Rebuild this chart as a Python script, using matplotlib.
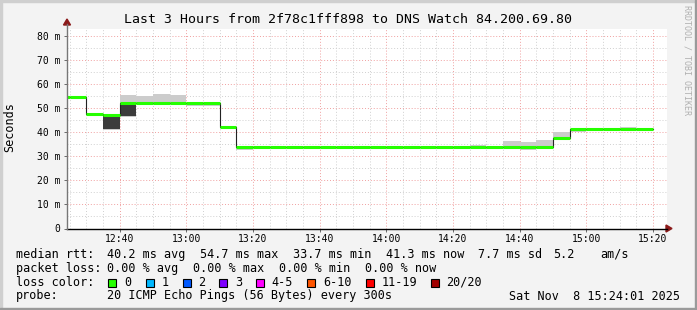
import numpy as np
import matplotlib
matplotlib.use("Agg")
from matplotlib import pyplot as plt
from matplotlib.patches import Rectangle, Polygon

plt.rcParams['font.family'] = ['DejaVu Sans Mono']

W, H = 697, 310

# 5 minute intervals, start times
interval_start = ["12:20", "12:25", "12:30", "12:35", "12:40", "12:45", "12:50", "12:55",
                  "13:00", "13:05", "13:10", "13:15", "13:20", "13:25", "13:30", "13:35",
                  "13:40", "13:45", "13:50", "13:55", "14:00", "14:05", "14:10", "14:15",
                  "14:20", "14:25", "14:30", "14:35", "14:40", "14:45", "14:50", "14:55",
                  "15:00", "15:05", "15:10", "15:15"]
median_ms = [54.7, 54.7, 47.5, 47.1, 52.2, 52.2, 52.2, 52.2,
             52.0, 52.0, 42.1, 33.8, 33.8, 33.8, 33.8, 33.8,
             33.8, 33.8, 33.8, 33.8, 33.8, 33.8, 33.8, 33.8,
             33.8, 33.8, 33.9, 33.9, 33.9, 33.9, 37.7, 41.3,
             41.3, 41.3, 41.3, 41.3]
# light smoke band (lo, hi), nan = none
smoke_lo = [np.nan, np.nan, np.nan, 40.9, 46.4, 51.5, 52.2, 52.2,
            51.0, 51.0, np.nan, 32.6, np.nan, np.nan, np.nan, np.nan,
            np.nan, np.nan, np.nan, np.nan, np.nan, np.nan, np.nan, np.nan,
            np.nan, 33.8, 32.8, 33.9, 32.5, 33.9, 37.7, 40.1,
            40.5, np.nan, 41.3, np.nan]
smoke_hi = [np.nan, np.nan, np.nan, 47.1, 55.4, 55.0, 55.8, 55.4,
            52.0, 52.0, np.nan, 33.8, np.nan, np.nan, np.nan, np.nan,
            np.nan, np.nan, np.nan, np.nan, np.nan, np.nan, np.nan, np.nan,
            np.nan, 34.6, 33.9, 36.3, 35.8, 36.6, 40.2, 41.3,
            41.3, np.nan, 42.1, np.nan]
# dense (dark) smoke band
dark_lo = [np.nan, np.nan, np.nan, 41.3, 46.8, np.nan]
dark_hi = [np.nan, np.nan, np.nan, 47.1, 52.0, np.nan]

x_ticks = ["12:40", "13:00", "13:20", "13:40", "14:00", "14:20", "14:40", "15:00", "15:20"]
y_ticks = [0, 10, 20, 30, 40, 50, 60, 70, 80]

loss_labels = ["0", "1", "2", "3", "4-5", "6-10", "11-19", "20/20"]
loss_colors = ["#26ff00", "#00b8ff", "#0059ff", "#7e00ff", "#ff00ff", "#ff5500", "#ff0000", "#a10000"]


def tmin(s):
    h, m = s.split(":")
    return (int(h) - 12) * 60 + int(m)


def fx(x):
    return x / W


def fy(y):
    return 1 - y / H


t_start = 24.2
t_end = t_start + 180

fig = plt.figure(figsize=(W / 100, H / 100), dpi=100)
fig.patch.set_facecolor("#f3f3f3")

# plot area: 600x200 px
ax = fig.add_axes([fx(67), fy(228.5), 600 / W, 200 / H])
ax.set_facecolor("white")
ax.set_xlim(t_start, t_end)
ax.set_ylim(0, 200 / 2.409)

# grid
for v in np.arange(5, 85, 5):
    c = "#f0a0a0" if v % 10 == 0 else "#d0d0d0"
    ax.axhline(v, color=c, lw=0.7, ls=(0, (1, 2)), zorder=0)
for m in range(25, 205, 5):
    c = "#f0a0a0" if m % 20 == 0 else "#d0d0d0"
    ax.axvline(m, color=c, lw=0.7, ls=(0, (1, 2)), zorder=0)

starts = np.array([tmin(s) for s in interval_start], dtype=float)
ends = starts + 5
med = np.array(median_ms)

# smoke
for i in range(len(starts)):
    if not np.isnan(smoke_lo[i]):
        ax.fill_between([starts[i], ends[i]], smoke_lo[i], smoke_hi[i], color="#cccccc",
                        lw=0, zorder=1)
for i in range(len(dark_lo)):
    if not np.isnan(dark_lo[i]):
        ax.fill_between([starts[i], ends[i]], dark_lo[i], dark_hi[i], color="#3c3c3c",
                        lw=0, zorder=2)

# median line: black step connectors, green segments
xs = np.append(starts, ends[-1])
ax.step(xs, np.append(med, med[-1]), where="post", color="#222222", lw=0.8, zorder=3)
ax.hlines(med, starts, ends, color=loss_colors[0], lw=2.2, zorder=4)

for s in ax.spines.values():
    s.set_visible(False)
ax.set_xticks([tmin(s) for s in x_ticks])
ax.set_xticklabels(x_ticks)
ax.set_yticks(y_ticks)
ax.set_yticklabels([f"{v} m" if v else "0" for v in y_ticks])
ax.tick_params(labelsize=7, length=2.5, width=0.6, color="#555555")
ax.tick_params(axis="x", pad=1.5)
ax.tick_params(axis="y", pad=2.5)

# axes lines with arrows
fig.add_artist(plt.Line2D([fx(67), fx(667)], [fy(228.5), fy(228.5)], color="black", lw=1.0))
fig.add_artist(plt.Line2D([fx(67), fx(67)], [fy(228.5), fy(24)], color="#777777", lw=1.0))
fig.add_artist(Polygon([[fx(666), fy(225)], [fx(666), fy(232)], [fx(672), fy(228.5)]],
                       closed=True, color="#8b1a1a", transform=fig.transFigure))
fig.add_artist(Polygon([[fx(63.5), fy(25)], [fx(70.5), fy(25)], [fx(67), fy(19)]],
                       closed=True, color="#8b1a1a", transform=fig.transFigure))

# titles
fig.text(fx(348), fy(19.5), "Last 3 Hours from 2f78c1fff898 to DNS Watch 84.200.69.80",
         ha="center", va="center", fontsize=9.5)
fig.text(fx(10), fy(127.5), "Seconds", rotation=90, ha="center", va="center", fontsize=8.5)
fig.text(fx(687), fy(5), "RRDTOOL / TOBI OETIKER", rotation=270, ha="center", va="top",
         fontsize=6, color="#b0b0b0")

# legend
fs = 8.5
rows = [
    (254.3, [(16, "median rtt:"), (107.3, "40.2 ms avg"), (200, "54.7 ms max"),
             (293.3, "33.7 ms min"), (385.7, "41.3 ms now"), (478.3, "7.7 ms sd"),
             (553.3, "5.2"), (600, "am/s")]),
    (268.3, [(16, "packet loss:"), (107.3, "0.00 % avg"), (193.3, "0.00 % max"),
             (279.3, "0.00 % min"), (365, "0.00 % now")]),
    (282.3, [(16, "loss color:")]),
    (296.0, [(16, "probe:"), (107.3, "20 ICMP Echo Pings (56 Bytes) every 300s")]),
]
for y, items in rows:
    for x, txt in items:
        fig.text(fx(x), fy(y), txt, ha="left", va="center", fontsize=fs)
fig.text(fx(680), fy(296.0), "Sat Nov  8 15:24:01 2025", ha="right", va="center", fontsize=fs)

box_x = [108.3, 145.7, 182.7, 219.3, 256.3, 307.3, 365.7, 430.7]
for bx, lab, col in zip(box_x, loss_labels, loss_colors):
    fig.add_artist(Rectangle((fx(bx), fy(286.5)), 8 / W, 8 / H, facecolor=col,
                             edgecolor="black", lw=0.8, transform=fig.transFigure))
    fig.text(fx(bx + 15.5), fy(282.3), lab, ha="left", va="center", fontsize=fs)

# 3D border
fig.add_artist(Rectangle((0, fy(2)), 1, 2 / H, color="#cfcfcf", transform=fig.transFigure))
fig.add_artist(Rectangle((0, 0), 2 / W, 1, color="#cfcfcf", transform=fig.transFigure))
fig.add_artist(Rectangle((0, 0), 1, 2 / H, color="#9a9a9a", transform=fig.transFigure))
fig.add_artist(Rectangle((fx(695), 0), 2 / W, 1, color="#9a9a9a", transform=fig.transFigure))

fig.savefig("out.png", dpi=100, facecolor=fig.get_facecolor())
